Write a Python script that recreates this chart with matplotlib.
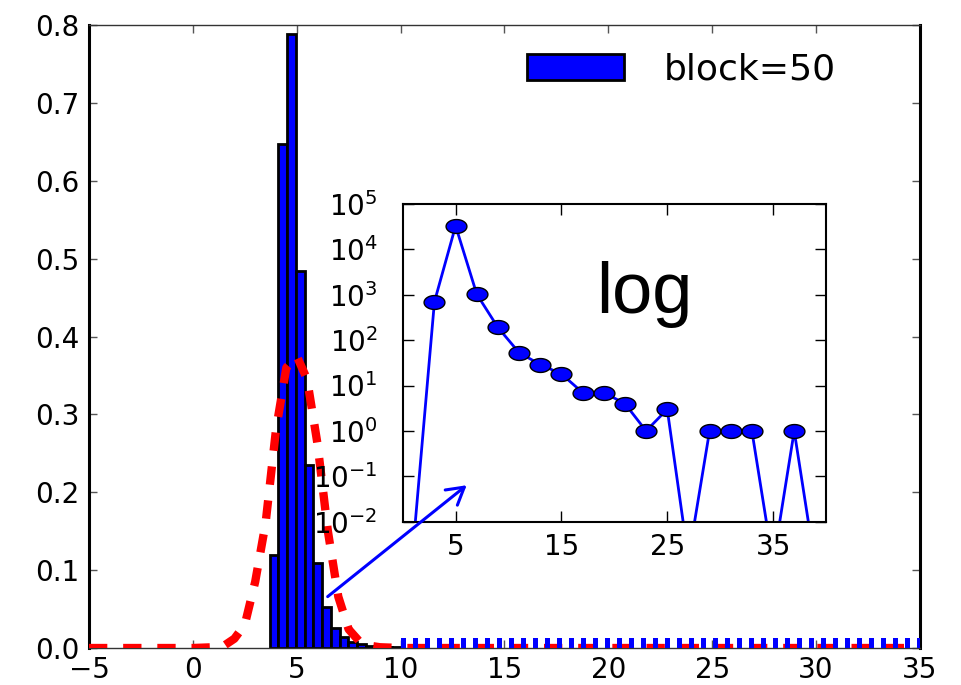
import numpy as np
import matplotlib
matplotlib.use("Agg")
import matplotlib.pyplot as plt
from matplotlib.path import Path
from matplotlib.patches import ConnectionPatch
from matplotlib.ticker import FormatStrFormatter, LogLocator

plt.rcParams['font.family'] = ['DejaVu Sans']
plt.rcParams['mathtext.fontset'] = 'dejavusans'

# --- histogram of block statistics (density) ---
bin_left = [3.70, 4.12, 4.54, 4.96, 5.38, 5.80, 6.22, 6.64, 7.06, 7.48,
            7.90, 8.32, 8.74, 9.16, 9.58]
bin_width = 0.42
density = [0.119, 0.647, 0.788, 0.484, 0.235, 0.109, 0.053, 0.026, 0.014, 0.008,
           0.005, 0.003, 0.002, 0.001, 0.001]

# --- fitted reference curve ---
fit_x = [-5.0, 0.0, 1.0, 1.5, 2.0, 2.5, 3.0, 3.5, 4.0, 4.5, 5.0, 5.5, 6.0,
         6.5, 7.0, 7.5, 8.0, 8.5, 9.0, 10.0, 35.0]
fit_y = [0.0, 0.0, 0.001, 0.003, 0.012, 0.030, 0.085, 0.160, 0.280, 0.360,
         0.375, 0.345, 0.262, 0.150, 0.066, 0.024, 0.009, 0.003, 0.001, 0.0, 0.0]

# --- sparse tail beyond 10 ---
tail_x = [10.0, 35.0]
tail_y = [0.0065, 0.0065]

# --- counts per size on a log scale (inset) ---
count_x = [1, 3, 5, 7, 9, 11, 13, 15, 17, 19, 21, 23, 25, 27, 29, 31, 33, 35, 37, 39]
counts = [0.003, 700, 33000, 1030, 190, 53, 29, 18, 7, 7, 4, 1, 3, 0.0015,
          1, 1, 1, 0.0012, 1, 0.001]

legend_label = "block=50"
inset_title = "log"
main_xticks = [-5, 0, 5, 10, 15, 20, 25, 30, 35]
main_yticks = [0.0, 0.1, 0.2, 0.3, 0.4, 0.5, 0.6, 0.7, 0.8]
inset_xticks = [5, 15, 25, 35]

arrow_tail = (6.49, 0.066)
arrow_head = (13.18, 0.209)

BLUE = '#0000ff'

fig = plt.figure(figsize=(9.62, 6.85), dpi=100)
ax = fig.add_axes([0.0925, 0.0540, 0.8638, 0.9095])

ax.bar(bin_left, density, width=bin_width, align='edge', color=BLUE,
       edgecolor='black', linewidth=2.0, label=legend_label, zorder=2)
ax.plot(fit_x, fit_y, color='red', lw=6, dashes=(2.2, 1.9), zorder=3)
ax.plot(tail_x, tail_y, color=BLUE, lw=7.2, dashes=(0.5, 0.7), zorder=4)

ax.set_xlim(-5, 35)
ax.set_ylim(0, 0.8)
ax.set_xticks(main_xticks)
ax.set_yticks(main_yticks)
ax.yaxis.set_major_formatter(FormatStrFormatter('%.1f'))
ax.tick_params(direction='in', top=True, right=True, length=6, width=1,
               labelsize=20, color='#555555')
ax.tick_params(axis='y', pad=7)
ax.tick_params(axis='x', pad=6)
for side in ('left', 'right'):
    ax.spines[side].set_linewidth(2.2)
for side in ('top', 'bottom'):
    ax.spines[side].set_linewidth(1.0)
    ax.spines[side].set_color('#333333')

ax.legend(loc='center left', bbox_to_anchor=(0.527, 0.928), frameon=False,
          fontsize=26, handlelength=2.7, handleheight=0.72, handletextpad=1.1,
          borderpad=0, borderaxespad=0)

# --- inset with the log-scale counts ---
ins = fig.add_axes([0.4186, 0.2384, 0.4400, 0.4638])
t = np.linspace(0, 2 * np.pi, 64)
ellipse = Path(np.column_stack([1.5 * np.cos(t), np.sin(t)]), closed=True)
ins.plot(count_x, counts, '-', color=BLUE, lw=2, marker=ellipse, ms=15,
         mfc=BLUE, mec='black', mew=1)
ins.set_yscale('log')
ins.set_xlim(0, 40)
ins.set_ylim(1e-2, 1e5)
ins.set_xticks(inset_xticks)
ins.yaxis.set_major_locator(LogLocator(base=10, numticks=20))
ins.tick_params(which='major', direction='in', top=True, right=True,
                length=8, width=1, labelsize=20)
ins.tick_params(which='minor', direction='in', right=True, length=4, width=0.8)
ins.tick_params(axis='y', pad=18)
ins.tick_params(axis='x', pad=8)
for side in ins.spines.values():
    side.set_linewidth(1.5)
ins.text(0.57, 0.657, inset_title, transform=ins.transAxes, ha='center',
         va='baseline', fontsize=52, family=['Liberation Sans', 'DejaVu Sans'])

arrow = ConnectionPatch(xyA=arrow_tail, xyB=arrow_head, coordsA='data',
                        coordsB='data', axesA=ax, axesB=ax,
                        arrowstyle='->,head_length=0.6,head_width=0.35',
                        mutation_scale=20, color=BLUE, lw=2.2, zorder=5)
fig.add_artist(arrow)

fig.savefig('out.png', dpi=100)
